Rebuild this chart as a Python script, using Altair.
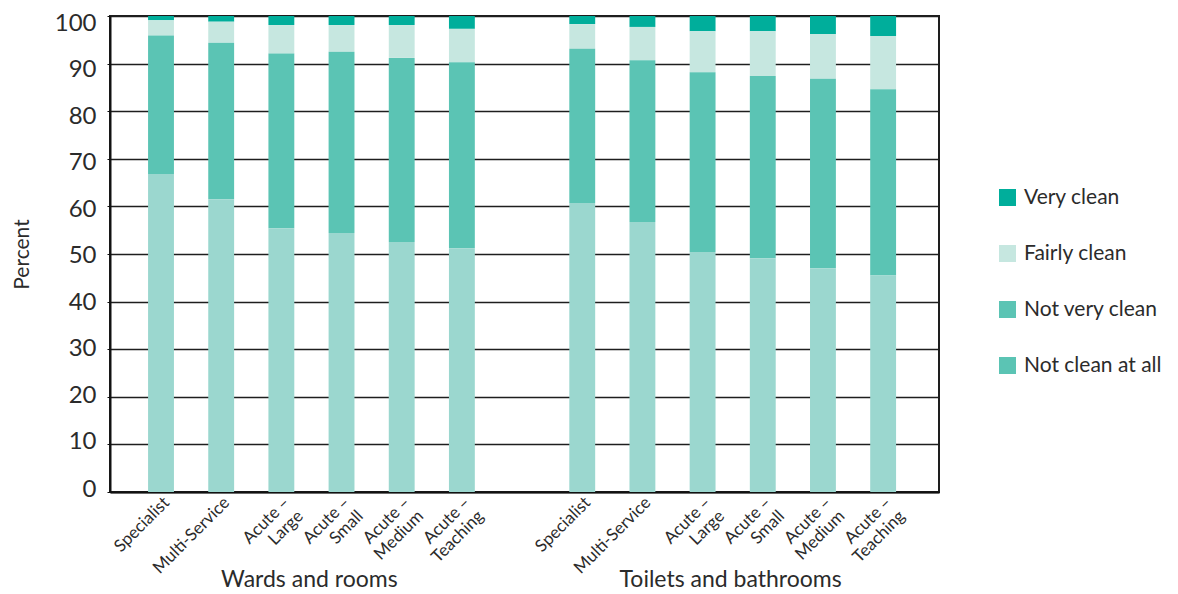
import altair as alt
import pandas as pd

# ---- data ----
groups = ["Wards and rooms", "Toilets and bathrooms"]
categories = ["Specialist", "Multi-Service", "Acute –~Large", "Acute –~Small",
              "Acute –~Medium", "Acute –~Teaching"]
series = ["Very clean", "Fairly clean", "Not very clean", "Not clean at all"]

# 12 bars: 6 wards/rooms, then 6 toilets/bathrooms (stack bottom -> top)
not_clean_at_all = [66.8, 61.5, 55.4, 54.4, 52.5, 51.2, 60.7, 56.7, 50.4, 49.1, 47.0, 45.5]
not_very_clean = [29.1, 32.9, 36.7, 38.1, 38.7, 39.1, 32.4, 34.0, 37.8, 38.3, 39.8, 39.1]
fairly_clean = [3.2, 4.4, 6.0, 5.6, 6.9, 7.0, 5.2, 7.0, 8.6, 9.4, 9.4, 11.2]
very_clean = [0.9, 1.2, 1.9, 1.9, 1.9, 2.7, 1.7, 2.3, 3.2, 3.2, 3.8, 4.2]

colors = {"Very clean": "#00ae9b", "Fairly clean": "#c6e7e0",
          "Not very clean": "#5bc4b4", "Not clean at all": "#5bc4b4"}
bottom_fill = "#9bd7cf"
stack_rank = {"Not clean at all": 0, "Not very clean": 1, "Fairly clean": 2, "Very clean": 3}

# ---- build table ----
keys = []
bar_keys = []
n = 0
for gi, g in enumerate(groups):
    for c in categories:
        k = f"{n:02d}|{c}"
        keys.append(k)
        bar_keys.append(k)
        n += 1
    if gi == 0:
        keys.append(f"{n:02d}|")
        n += 1

values = {"Not clean at all": not_clean_at_all, "Not very clean": not_very_clean,
          "Fairly clean": fairly_clean, "Very clean": very_clean}
rows = []
for i, k in enumerate(bar_keys):
    for s in series:
        rows.append({"key": k, "series": s, "value": values[s][i], "rank": stack_rank[s]})
df = pd.DataFrame(rows)

title_df = pd.DataFrame({"key": [bar_keys[2], bar_keys[8]], "title": groups})

W, H = 829, 476
FONT = "Lato"
TXT = "#2b2b2b"

xscale = alt.Scale(domain=keys, paddingInner=0.57, paddingOuter=0.673, align=0.47)

ylabel_offset = {
    "condition": [
        {"test": "datum.value >= 100", "value": 7},
        {"test": "datum.value >= 80", "value": 5.5},
        {"test": "datum.value >= 60", "value": 3.5},
        {"test": "datum.value >= 40", "value": 1.3},
        {"test": "datum.value >= 20", "value": -1},
    ],
    "value": -3,
}

bars = alt.Chart(df).mark_bar().encode(
    x=alt.X("key:N", scale=xscale, sort=keys,
            axis=alt.Axis(title=None,
                          labelExpr="split(split(datum.value, '|')[1], '~')",
                          labelAngle=315, labelAlign="right", labelBaseline="top",
                          labelFontSize=17, labelFont=FONT, labelColor=TXT,
                          labelPadding=2, ticks=False, domainColor="#111",
                          domainWidth=2, grid=False, labelLineHeight=19)),
    y=alt.Y("value:Q", stack="zero",
            scale=alt.Scale(domain=[0, 100], nice=False),
            axis=alt.Axis(values=list(range(0, 101, 10)), title="Percent",
                          titleFont=FONT, titleFontSize=21, titleFontWeight="normal",
                          titleColor=TXT, titleX=-88, titleY=H / 2,
                          titleBaseline="middle",
                          labelFont=FONT, labelFontSize=24, labelColor=TXT,
                          labelPadding=11, labelOffset=ylabel_offset,
                          tickSize=3, tickColor="#111",
                          domainColor="#111", domainWidth=2,
                          grid=True, gridColor="#1e1e1e", gridWidth=1.6)),
    color=alt.condition(
        alt.datum.series == "Not clean at all",
        alt.value(bottom_fill),
        alt.Color("series:N",
                  scale=alt.Scale(domain=series, range=[colors[s] for s in series]),
                  legend=alt.Legend(title=None, orient="none", legendX=887, legendY=171,
                                    padding=0, symbolType="square", symbolSize=289,
                                    symbolStrokeWidth=0, labelFont=FONT,
                                    labelFontSize=21, labelColor=TXT, labelOffset=6,
                                    rowPadding=34, labelLimit=300)),
    ),
    order=alt.Order("rank:Q", sort="ascending"),
)

titles = alt.Chart(title_df).mark_text(
    font=FONT, fontSize=23, color=TXT, align="center", baseline="alphabetic", dx=28
).encode(
    x=alt.X("key:N", scale=xscale, sort=keys),
    y=alt.value(H + 95),
    text="title:N",
)

chart = alt.layer(bars, titles).properties(
    width=W, height=H,
    autosize=alt.AutoSizeParams(type="none"),
    padding={"left": 102, "top": 8, "right": 230, "bottom": 100},
).configure_view(stroke="#1e1e1e", strokeWidth=2)

chart.save("out.html", embed_options={"renderer": "svg", "actions": False})
